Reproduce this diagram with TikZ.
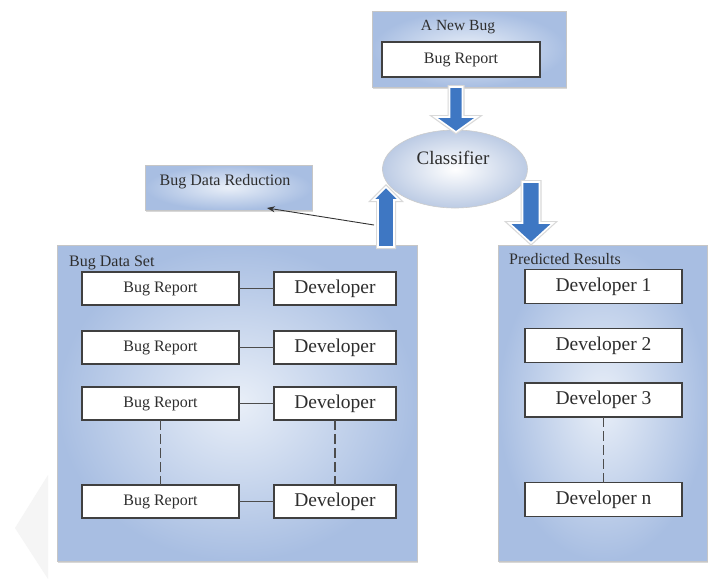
\documentclass[tikz,border=0pt]{standalone}
\usepackage{fontspec}
\setmainfont{Liberation Serif}
\usetikzlibrary{shadows,arrows.meta,shapes.geometric,calc}
\definecolor{edgeblue}{HTML}{A8BEE2}
\definecolor{midblue}{HTML}{E9EFF8}
\definecolor{ellblue}{HTML}{BCCBE4}
\definecolor{arrblue}{HTML}{3E77C3}
\definecolor{txt}{HTML}{2E2E2E}
\newcommand\blockarr[6]{%
  \path[blockarrow] ({#1-#4},#2) -- ({#1-#4},#6) -- ({#1-#5},#6) -- (#1,#3)
     -- ({#1+#5},#6) -- ({#1+#4},#6) -- ({#1+#4},#2) -- cycle;}
\begin{document}
\begin{tikzpicture}[x=1pt,y=-1pt,
  panel/.style={draw=gray!45, line width=0.6pt, inner color=midblue, outer color=edgeblue,
    drop shadow={shadow xshift=1.2pt, shadow yshift=-1.5pt, opacity=0.3, fill=gray},
    inner sep=0pt, outer sep=0pt},
  wbox/.style={draw=black!75, line width=1.1pt, fill=white, inner sep=0pt, outer sep=0pt, text=txt},
  brbox/.style={wbox, minimum width=157pt, minimum height=33pt, font=\fontsize{16}{18}\selectfont},
  devbox/.style={wbox, minimum width=122pt, minimum height=33pt, font=\fontsize{19.5}{22}\selectfont},
  pdevbox/.style={wbox, minimum width=157pt, minimum height=34pt, font=\fontsize{19.5}{22}\selectfont},
  lbl/.style={text=txt, inner sep=0pt},
  link/.style={draw=black!70, line width=1.1pt},
  dlink/.style={draw=black!70, line width=1.1pt, dash pattern=on 10pt off 4pt},
  blockarrow/.style={fill=arrblue, draw=white, line width=1.6pt, line join=miter,
    preaction={draw=gray!30, line width=4pt}},
]
\useasboundingbox (0,0) rectangle (715,579);
\fill[white] (0,0) rectangle (715,579);

% faint watermark wedge
\fill[gray!8] (48,475) -- (15,528) -- (48,579) -- cycle;

% A New Bug
\node[panel, minimum width=194pt, minimum height=76pt] (newbug) at (469,49) {};
\node[lbl, font=\fontsize{15.5}{18}\selectfont] (newbuglbl) at (458,27) {A New Bug};
\node[wbox, minimum width=158pt, minimum height=35pt, font=\fontsize{16}{18}\selectfont] (newbr) at (461,59.5) {Bug Report};

% Bug Data Reduction
\node[panel, minimum width=167pt, minimum height=45pt] (reduction) at (228.5,187.5) {};
\node[lbl, font=\fontsize{16}{18}\selectfont] (reductionlbl) at (225,182) {Bug Data Reduction};

% Classifier
\node[ellipse, draw=gray!40, line width=0.6pt, inner color=white, outer color=ellblue,
  minimum width=145pt, minimum height=78pt, inner sep=0pt] (clf) at (455,169) {};
\node[lbl, font=\fontsize{19}{22}\selectfont] (clflbl) at (453,158) {Classifier};

% Bug Data Set
\node[panel, minimum width=360pt, minimum height=316pt] (dataset) at (237,403) {};
\node[lbl, anchor=base west, font=\fontsize{16}{18}\selectfont] (datasetlbl) at (69,266) {Bug Data Set};

\node[brbox] (br1) at (160.5,288.5) {Bug Report};
\node[brbox] (br2) at (160.5,347.5) {Bug Report};
\node[brbox] (br3) at (160.5,403.5) {Bug Report};
\node[brbox] (br4) at (160.5,501.5) {Bug Report};
\node[devbox] (dv1) at (335,288.5) {Developer};
\node[devbox] (dv2) at (335,347.5) {Developer};
\node[devbox] (dv3) at (335,403.5) {Developer};
\node[devbox] (dv4) at (335,501.5) {Developer};
\draw[link] (br1) -- (dv1);
\draw[link] (br2) -- (dv2);
\draw[link] (br3) -- (dv3);
\draw[link] (br4) -- (dv4);
\draw[dlink] (br3) -- (br4);
\draw[dlink] (dv3) -- (dv4);

% Predicted Results
\node[panel, minimum width=209pt, minimum height=316pt] (pred) at (602.5,403) {};
\node[lbl, anchor=base west, font=\fontsize{16}{18}\selectfont] (predlbl) at (509,264) {Predicted Results};
\node[pdevbox] (pd1) at (603.5,286.5) {Developer 1};
\node[pdevbox] (pd2) at (603.5,345.5) {Developer 2};
\node[pdevbox] (pd3) at (603.5,400) {Developer 3};
\node[pdevbox] (pdn) at (603.5,499.5) {Developer n};
\draw[dlink] (pd3) -- (pdn);

% block arrows
\blockarr{456}{87}{132}{6.5}{21}{117}
\blockarr{531}{182}{243}{8.5}{22}{223}
\blockarr{386}{247}{187}{8}{13}{200}

% thin arrow to Bug Data Reduction
\coordinate (tail) at (374,225);
\draw[black!80, line width=0.9pt, -{Stealth[length=8pt,width=6pt]}]
  (tail) -- ($(reduction.south west)!0.73!(reduction.south east)+(0,-2)$);
\end{tikzpicture}
\end{document}
